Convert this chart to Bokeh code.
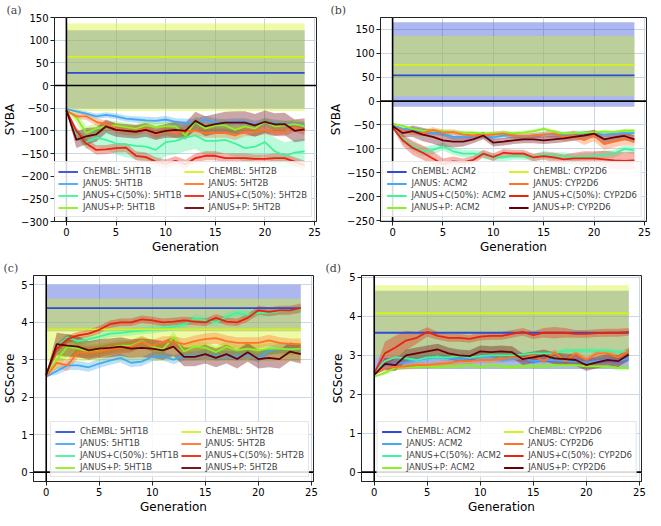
from bokeh.plotting import figure
from bokeh.models import Legend, LegendItem, Span, FixedTicker, Range1d
from bokeh.layouts import column, row
from bokeh.embed import file_html
from bokeh.resources import INLINE

gens = list(range(25))
x_ticks = [0, 5, 10, 15, 20, 25]
run_names = ["ChEMBL", "JANUS", "JANUS+C(50%)", "JANUS+P"]

# ---------------- panel (a): SYBA, 5HT1B / 5HT2B ----------------
a_targets = ["5HT1B", "5HT2B"]
a_yticks = [-300, -250, -200, -150, -100, -50, 0, 50, 100, 150]
a_chembl_mean = [28, 63]
a_chembl_lo = [-50, -56]
a_chembl_hi = [122, 137]
a_janus_1 = [-52, -57, -62, -68, -65, -68, -73, -75, -77, -78, -75, -80, -82, -82, -76, -82, -82, -80, -80, -86, -80, -83, -85, -87, -88]
a_janus_1_sd = [0, 4, 5, 6, 6, 6, 7, 7, 8, 8, 8, 8, 9, 9, 9, 9, 8, 8, 8, 8, 8, 8, 7, 7, 7]
a_janusC_1 = [-55, -105, -125, -115, -120, -128, -130, -133, -135, -142, -125, -122, -115, -110, -122, -122, -120, -128, -138, -135, -125, -145, -155, -148, -145]
a_janusC_1_sd = [0, 10, 15, 20, 22, 25, 28, 30, 30, 32, 30, 30, 30, 30, 30, 30, 30, 30, 30, 30, 30, 30, 30, 28, 28]
a_janusP_1 = [-55, -70, -105, -95, -90, -88, -92, -95, -88, -92, -90, -90, -110, -80, -95, -88, -88, -98, -90, -95, -80, -90, -88, -85, -90]
a_janusP_1_sd = [0, 12, 15, 12, 10, 10, 10, 10, 10, 10, 10, 10, 12, 12, 10, 10, 10, 10, 10, 10, 10, 10, 10, 10, 10]
a_janus_2 = [-55, -68, -68, -80, -85, -95, -100, -100, -95, -108, -100, -105, -100, -100, -105, -105, -105, -110, -102, -102, -98, -102, -102, -92, -100]
a_janus_2_sd = [0, 6, 8, 8, 8, 10, 10, 10, 10, 10, 10, 10, 10, 10, 10, 10, 10, 10, 10, 10, 10, 10, 10, 10, 10]
a_janusC_2 = [-55, -100, -128, -142, -141, -138, -137, -155, -158, -168, -173, -166, -174, -160, -155, -155, -160, -160, -160, -162, -162, -160, -160, -168, -176]
a_janusC_2_sd = [0, 8, 10, 10, 10, 10, 10, 10, 10, 10, 10, 10, 10, 10, 10, 10, 10, 10, 10, 10, 10, 10, 10, 10, 10]
a_janusP_2 = [-55, -120, -112, -108, -90, -98, -100, -102, -98, -105, -100, -98, -100, -78, -90, -85, -82, -82, -82, -88, -80, -86, -85, -100, -97]
a_janusP_2_sd = [0, 18, 18, 16, 15, 15, 15, 15, 15, 15, 15, 18, 18, 20, 22, 22, 24, 25, 25, 25, 25, 25, 25, 25, 25]

# ---------------- panel (b): SYBA, ACM2 / CYP2D6 ----------------
b_targets = ["ACM2", "CYP2D6"]
b_yticks = [-250, -200, -150, -100, -50, 0, 50, 100, 150]
b_chembl_mean = [54, 76]
b_chembl_lo = [-12, 10]
b_chembl_hi = [165, 137]
b_janus_1 = [-50, -58, -60, -64, -66, -68, -75, -75, -74, -72, -76, -72, -72, -75, -72, -70, -70, -70, -68, -68, -68, -70, -68, -67, -67]
b_janus_1_sd = [0, 4, 5, 5, 5, 5, 6, 6, 6, 6, 6, 6, 6, 6, 6, 6, 6, 6, 6, 6, 6, 6, 6, 6, 6]
b_janusC_1 = [-55, -80, -95, -105, -102, -95, -105, -110, -110, -112, -118, -118, -115, -115, -118, -112, -115, -115, -118, -116, -115, -112, -110, -100, -103]
b_janusC_1_sd = [0, 8, 10, 10, 10, 8, 8, 8, 8, 8, 8, 8, 8, 8, 8, 8, 8, 8, 8, 8, 8, 8, 8, 8, 8]
b_janusP_1 = [-47, -52, -58, -62, -62, -63, -65, -66, -66, -68, -67, -66, -67, -66, -63, -58, -64, -68, -67, -66, -65, -64, -65, -62, -62]
b_janusP_1_sd = [0, 3, 4, 4, 4, 4, 4, 4, 4, 4, 4, 4, 4, 4, 4, 4, 4, 4, 4, 4, 4, 4, 4, 4, 4]
b_janus_2 = [-52, -62, -65, -67, -60, -66, -65, -70, -72, -72, -70, -68, -72, -74, -72, -70, -68, -75, -72, -82, -72, -90, -85, -80, -82]
b_janus_2_sd = [0, 5, 6, 6, 6, 6, 6, 6, 6, 6, 6, 6, 6, 6, 6, 6, 8, 8, 10, 10, 12, 12, 12, 12, 12]
b_janusC_2 = [-55, -82, -98, -108, -120, -132, -126, -128, -123, -110, -117, -108, -110, -110, -118, -115, -118, -122, -120, -120, -120, -122, -124, -125, -124]
b_janusC_2_sd = [0, 12, 15, 15, 15, 12, 10, 8, 8, 8, 8, 8, 8, 8, 8, 8, 10, 10, 12, 15, 15, 18, 18, 18, 18]
b_janusP_2 = [-52, -67, -63, -70, -75, -82, -85, -85, -80, -72, -87, -85, -82, -80, -80, -82, -80, -78, -75, -72, -68, -80, -76, -73, -80]
b_janusP_2_sd = [0, 8, 12, 14, 14, 14, 12, 10, 8, 8, 8, 8, 8, 8, 8, 8, 8, 8, 8, 8, 8, 8, 8, 8, 8]

# ---------------- panel (c): SCScore, 5HT1B / 5HT2B ----------------
c_targets = ["5HT1B", "5HT2B"]
c_yticks = [0, 1, 2, 3, 4, 5]
c_chembl_mean = [4.38, 3.81]
c_chembl_lo = [3.76, 2.97]
c_chembl_hi = [5.0, 4.63]
c_janus_1 = [2.55, 2.7, 2.85, 2.85, 2.8, 2.9, 2.98, 3.05, 2.92, 2.95, 3.08, 3.1, 3.0, 3.1, 3.1, 3.15, 3.1, 3.12, 3.1, 3.15, 3.05, 3.25, 3.3, 3.3, 3.28]
c_janus_1_sd = [0, 0.1, 0.12, 0.12, 0.12, 0.12, 0.12, 0.12, 0.12, 0.12, 0.12, 0.12, 0.12, 0.12, 0.12, 0.12, 0.12, 0.12, 0.12, 0.12, 0.12, 0.12, 0.12, 0.12, 0.12]
c_janusC_1 = [2.6, 3.35, 3.6, 3.5, 3.55, 3.62, 3.7, 3.72, 3.75, 3.78, 3.8, 3.85, 3.88, 3.95, 4.1, 4.05, 4.0, 4.15, 4.25, 4.2, 4.25, 4.25, 4.3, 4.32, 4.35]
c_janusC_1_sd = [0, 0.1, 0.1, 0.1, 0.1, 0.1, 0.1, 0.1, 0.1, 0.1, 0.1, 0.1, 0.1, 0.1, 0.1, 0.1, 0.1, 0.1, 0.1, 0.1, 0.1, 0.1, 0.1, 0.1, 0.1]
c_janusP_1 = [2.6, 3.0, 3.35, 3.3, 3.22, 3.28, 3.32, 3.38, 3.38, 3.5, 3.35, 3.28, 3.6, 3.22, 3.35, 3.32, 3.2, 3.35, 3.25, 3.3, 3.25, 3.3, 3.3, 3.28, 3.3]
c_janusP_1_sd = [0, 0.25, 0.25, 0.2, 0.18, 0.15, 0.15, 0.15, 0.15, 0.15, 0.15, 0.15, 0.15, 0.15, 0.15, 0.15, 0.15, 0.15, 0.15, 0.15, 0.15, 0.15, 0.15, 0.15, 0.15]
c_janus_2 = [2.55, 2.92, 2.85, 3.2, 3.2, 3.22, 3.28, 3.32, 3.35, 3.48, 3.38, 3.48, 3.48, 3.42, 3.5, 3.55, 3.58, 3.5, 3.45, 3.45, 3.45, 3.52, 3.45, 3.42, 3.42]
c_janus_2_sd = [0, 0.15, 0.15, 0.15, 0.15, 0.15, 0.15, 0.15, 0.15, 0.15, 0.15, 0.15, 0.15, 0.15, 0.15, 0.15, 0.15, 0.15, 0.15, 0.15, 0.15, 0.15, 0.15, 0.15, 0.15]
c_janusC_2 = [2.6, 3.3, 3.55, 3.65, 3.7, 3.8, 3.95, 4.0, 4.0, 4.08, 4.05, 4.0, 4.02, 4.05, 4.02, 4.0, 4.12, 4.02, 4.0, 4.12, 4.32, 4.28, 4.32, 4.32, 4.38]
c_janusC_2_sd = [0, 0.1, 0.1, 0.1, 0.1, 0.1, 0.1, 0.1, 0.1, 0.1, 0.1, 0.1, 0.1, 0.1, 0.1, 0.1, 0.1, 0.1, 0.1, 0.1, 0.12, 0.12, 0.12, 0.12, 0.12]
c_janusP_2 = [2.6, 3.42, 3.38, 3.35, 3.25, 3.3, 3.32, 3.35, 3.3, 3.32, 3.3, 3.25, 3.35, 3.08, 3.08, 3.15, 3.05, 3.15, 3.02, 3.2, 3.02, 3.05, 3.02, 3.22, 3.15]
c_janusP_2_sd = [0, 0.3, 0.3, 0.28, 0.25, 0.25, 0.25, 0.25, 0.25, 0.25, 0.25, 0.25, 0.25, 0.25, 0.25, 0.25, 0.25, 0.25, 0.25, 0.25, 0.25, 0.25, 0.25, 0.25, 0.25]

# ---------------- panel (d): SCScore, ACM2 / CYP2D6 ----------------
d_targets = ["ACM2", "CYP2D6"]
d_yticks = [0, 1, 2, 3, 4, 5]
d_chembl_mean = [3.58, 4.08]
d_chembl_lo = [2.65, 2.95]
d_chembl_hi = [4.66, 4.8]
d_janus_1 = [2.5, 2.7, 2.78, 2.82, 2.88, 2.92, 2.95, 2.92, 2.9, 2.92, 2.95, 2.95, 2.88, 2.9, 2.92, 2.85, 2.88, 2.88, 2.85, 2.85, 2.82, 2.85, 2.88, 2.85, 2.92]
d_janus_1_sd = [0, 0.07, 0.07, 0.07, 0.07, 0.07, 0.07, 0.07, 0.07, 0.07, 0.07, 0.07, 0.07, 0.07, 0.07, 0.07, 0.07, 0.07, 0.07, 0.07, 0.07, 0.07, 0.07, 0.07, 0.07]
d_janusC_1 = [2.55, 2.85, 2.95, 2.92, 2.88, 2.95, 2.95, 2.95, 2.98, 2.95, 2.98, 3.0, 3.0, 3.0, 3.02, 3.05, 3.05, 3.05, 3.12, 3.12, 3.12, 3.12, 3.12, 3.08, 3.1]
d_janusC_1_sd = [0, 0.07, 0.07, 0.07, 0.07, 0.07, 0.07, 0.07, 0.07, 0.07, 0.07, 0.07, 0.07, 0.07, 0.07, 0.07, 0.07, 0.07, 0.07, 0.07, 0.07, 0.07, 0.07, 0.07, 0.07]
d_janusP_1 = [2.45, 2.55, 2.68, 2.7, 2.7, 2.72, 2.7, 2.72, 2.72, 2.75, 2.7, 2.75, 2.72, 2.7, 2.72, 2.72, 2.72, 2.75, 2.75, 2.75, 2.72, 2.72, 2.72, 2.68, 2.68]
d_janusP_1_sd = [0, 0.06, 0.06, 0.06, 0.06, 0.06, 0.06, 0.06, 0.06, 0.06, 0.06, 0.06, 0.06, 0.06, 0.06, 0.06, 0.06, 0.06, 0.06, 0.06, 0.06, 0.06, 0.06, 0.06, 0.06]
d_janus_2 = [2.5, 2.68, 2.7, 2.72, 2.75, 2.75, 2.78, 2.8, 2.85, 2.85, 2.88, 2.88, 2.9, 2.95, 2.92, 3.0, 2.85, 3.08, 2.85, 3.05, 2.88, 3.05, 3.05, 2.95, 3.12]
d_janus_2_sd = [0, 0.08, 0.08, 0.08, 0.08, 0.08, 0.08, 0.08, 0.08, 0.08, 0.08, 0.08, 0.08, 0.08, 0.08, 0.08, 0.08, 0.08, 0.08, 0.08, 0.08, 0.08, 0.08, 0.08, 0.1]
d_janusC_2 = [2.55, 3.05, 3.2, 3.38, 3.45, 3.6, 3.5, 3.45, 3.45, 3.42, 3.48, 3.5, 3.5, 3.55, 3.6, 3.52, 3.58, 3.58, 3.58, 3.55, 3.55, 3.57, 3.58, 3.58, 3.6]
d_janusC_2_sd = [0, 0.3, 0.3, 0.25, 0.15, 0.12, 0.1, 0.1, 0.1, 0.1, 0.1, 0.1, 0.1, 0.1, 0.1, 0.1, 0.12, 0.15, 0.12, 0.1, 0.1, 0.1, 0.1, 0.1, 0.1]
d_janusP_2 = [2.5, 2.78, 2.75, 3.0, 3.05, 3.1, 3.15, 3.05, 3.0, 2.98, 3.1, 3.08, 3.1, 3.08, 2.9, 2.95, 3.0, 2.92, 2.9, 2.88, 2.75, 2.82, 2.88, 2.85, 3.02]
d_janusP_2_sd = [0, 0.15, 0.15, 0.15, 0.15, 0.15, 0.15, 0.15, 0.15, 0.15, 0.15, 0.15, 0.15, 0.15, 0.15, 0.15, 0.15, 0.15, 0.15, 0.15, 0.15, 0.15, 0.15, 0.15, 0.15]

# styles
COLORS = [["#2f4ad6", "#45a8f2", "#42f29c", "#8af022"],
          ["#d4f21f", "#ff7328", "#e8230e", "#660006"]]
FONT = "DejaVu Sans"


def minus(v):
    s = ("%g" % abs(v))
    return ("\u2212" + s) if v < 0 else s


def make_panel(tag, ylabel, y_range, yticks, targets, ch_mean, ch_lo, ch_hi,
               runs, sds, fw, fh, bl, br, bt, bb, toff):
    p = figure(frame_width=fw, frame_height=fh, x_range=Range1d(-1.2, 25.2),
               y_range=Range1d(*y_range), output_backend="svg",
               toolbar_location=None, min_border_left=bl, min_border_right=br,
               min_border_top=bt, min_border_bottom=bb)
    p.background_fill_color = "white"
    p.outline_line_color = "#222222"
    p.outline_line_width = 1
    for t in range(2):
        p.varea(x=gens, y1=[ch_lo[t]] * len(gens), y2=[ch_hi[t]] * len(gens),
                fill_color=COLORS[t][0], fill_alpha=0.4)
    for t in range(2):
        for k in range(3):
            m = runs[t][k]
            s = sds[t][k]
            p.varea(x=gens, y1=[a - b for a, b in zip(m, s)],
                    y2=[a + b for a, b in zip(m, s)],
                    fill_color=COLORS[t][k + 1], fill_alpha=0.35)
    p.add_layout(Span(location=0, dimension="width", line_color="black", line_width=1.6))
    p.add_layout(Span(location=0, dimension="height", line_color="black", line_width=1.6))
    items = []
    for t in range(2):
        r = p.line(gens, [ch_mean[t]] * len(gens), line_color=COLORS[t][0], line_width=1.8)
        rs = [r]
        for k in range(3):
            rs.append(p.line(gens, runs[t][k], line_color=COLORS[t][k + 1], line_width=1.8))
        for k in range(4):
            items.append(LegendItem(label="%s: %s" % (run_names[k], targets[t]), renderers=[rs[k]]))
    leg = Legend(items=items, location="bottom_right", ncols=2,
                 label_text_font=FONT, label_text_font_size="8.5px",
                 label_height=9, glyph_height=9, glyph_width=20,
                 label_standoff=5, spacing=2, padding=4, margin=4,
                 border_line_color="#cccccc", border_line_width=1,
                 background_fill_alpha=0.85)
    p.add_layout(leg)
    p.grid.grid_line_color = "#c9d6e4"
    p.grid.grid_line_width = 1
    p.xaxis.ticker = FixedTicker(ticks=x_ticks)
    p.yaxis.ticker = FixedTicker(ticks=yticks)
    p.yaxis.major_label_overrides = {v: minus(v) for v in yticks}
    for ax in (p.xaxis[0], p.yaxis[0]):
        ax.major_label_text_font = FONT
        ax.major_label_text_font_size = "10px"
        ax.major_label_text_color = "black"
        ax.axis_label_text_font = FONT
        ax.axis_label_text_font_size = "12px"
        ax.axis_label_text_font_style = "normal"
        ax.axis_label_text_color = "black"
        ax.minor_tick_line_color = None
        ax.major_tick_in = 0
        ax.major_tick_out = 4
        ax.major_tick_line_color = "#222222"
        ax.axis_line_color = "#222222"
        ax.major_label_standoff = 2
        ax.axis_label_standoff = 1
    p.xaxis.axis_label = "Generation"
    p.yaxis.axis_label = ylabel
    p.title.text = tag
    p.title.text_font = "DejaVu Serif"
    p.title.text_font_size = "11px"
    p.title.text_font_style = "normal"
    p.title.align = "left"
    p.title.offset = toff
    p.title.standoff = 2
    return p


pa = make_panel("(a)", "SYBA", (-300, 150), a_yticks, a_targets,
                a_chembl_mean, a_chembl_lo, a_chembl_hi,
                [[a_janus_1, a_janusC_1, a_janusP_1], [a_janus_2, a_janusC_2, a_janusP_2]],
                [[a_janus_1_sd, a_janusC_1_sd, a_janusP_1_sd], [a_janus_2_sd, a_janusC_2_sd, a_janusP_2_sd]],
                262, 204, 48, 10, 15, 31, -48)
pb = make_panel("(b)", "SYBA", (-252, 175), b_yticks, b_targets,
                b_chembl_mean, b_chembl_lo, b_chembl_hi,
                [[b_janus_1, b_janusC_1, b_janusP_1], [b_janus_2, b_janusC_2, b_janusP_2]],
                [[b_janus_1_sd, b_janusC_1_sd, b_janusP_1_sd], [b_janus_2_sd, b_janusC_2_sd, b_janusP_2_sd]],
                266, 204, 50, 6, 15, 31, -50)
pc = make_panel("(c)", "SCScore", (-0.25, 5.25), c_yticks, c_targets,
                c_chembl_mean, c_chembl_lo, c_chembl_hi,
                [[c_janus_1, c_janusC_1, c_janusP_1], [c_janus_2, c_janusC_2, c_janusP_2]],
                [[c_janus_1_sd, c_janusC_1_sd, c_janusP_1_sd], [c_janus_2_sd, c_janusC_2_sd, c_janusP_2_sd]],
                280, 206, 28, 12, 19, 31, -30)
pd = make_panel("(d)", "SCScore", (-0.24, 5.05), d_yticks, d_targets,
                d_chembl_mean, d_chembl_lo, d_chembl_hi,
                [[d_janus_1, d_janusC_1, d_janusP_1], [d_janus_2, d_janusC_2, d_janusP_2]],
                [[d_janus_1_sd, d_janusC_1_sd, d_janusP_1_sd], [d_janus_2_sd, d_janusC_2_sd, d_janusP_2_sd]],
                280, 206, 36, 6, 19, 31, -36)

layout = column(row(pa, pb), row(pc, pd))
open("out.html", "w").write(file_html(layout, INLINE))
